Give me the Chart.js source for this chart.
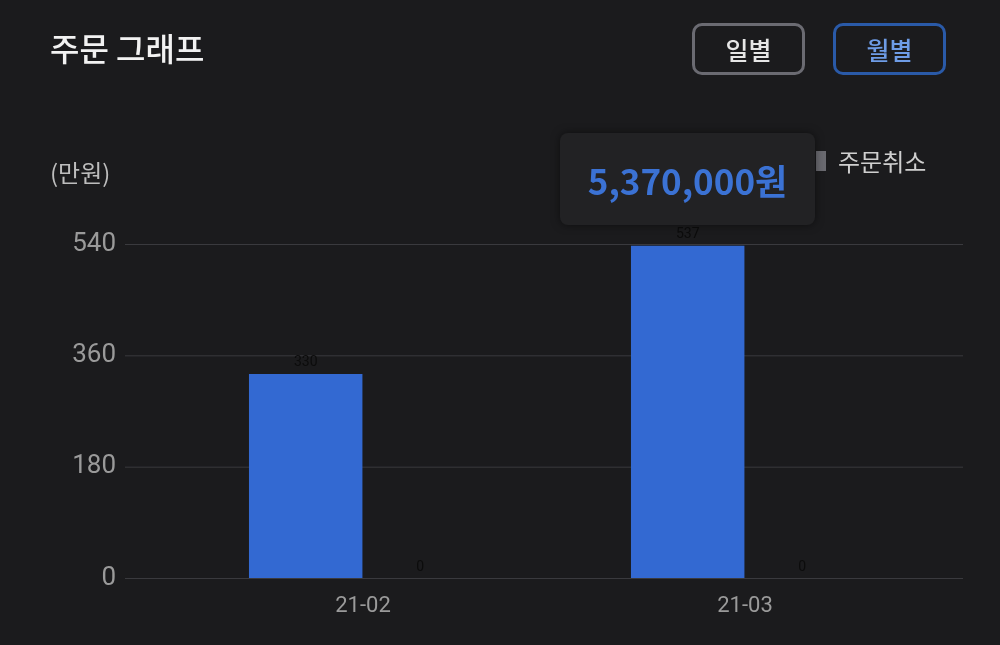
<!DOCTYPE html>
<html><head><meta charset="utf-8">
<script src="https://cdn.jsdelivr.net/npm/chart.js@4"></script>
<style>
body{margin:0;background:#1b1b1d;width:1000px;height:645px;overflow:hidden;font-family:"Noto Sans CJK KR","Noto Sans",sans-serif;position:relative}
#c{position:absolute;left:0;top:0}
.t{position:absolute;left:50px;top:24px;color:#f2f2f2;font-size:32px;font-weight:500}
.b{position:absolute;top:23px;width:113px;height:52px;border-radius:10px;box-sizing:border-box;font-size:25px;display:flex;align-items:center;justify-content:center;font-weight:500}
.unit{position:absolute;left:50px;top:154px;color:#bdbdbd;font-size:24px}
.leg{position:absolute;top:143px;left:816px;color:#cfcfcf;font-size:24px;display:flex;align-items:center}
.leg i{display:inline-block;width:10px;height:20px;background:#6a6a70;margin-right:12px}
.tip{position:absolute;left:560px;top:133px;width:255px;height:92px;background:#222224;border-radius:8px;box-shadow:0 0 8px rgba(0,0,0,.5);color:#3b72d4;font-size:35px;font-weight:700;display:flex;align-items:center;justify-content:center;font-family:"Noto Sans CJK KR","Open Sans",sans-serif}
</style></head><body>
<canvas id="c" width="1000" height="645"></canvas>
<div class="t">주문 그래프</div>
<div class="b" style="left:692px;border:3px solid #6b6b72;color:#e6e6e6">일별</div>
<div class="b" style="left:833px;border:3px solid #2a5aa8;color:#6e9ce6">월별</div>
<div class="unit">(만원)</div>
<div class="leg"><i></i>주문취소</div>
<div class="tip" id="tip"></div>
<script>
const categories=["21-02","21-03"];
const orders=[330,537];
const cancels=[0,0];
const yTicks=[0,180,360,540];
const seriesNames=["주문","주문취소"];

document.getElementById('tip').textContent=(orders[1]*10000).toLocaleString('en-US')+'원';

const deco={id:'deco',
 beforeDatasetsDraw(ch){const c=ch.ctx,y=ch.scales.y,x=ch.scales.x;c.save();
  c.strokeStyle='#3a3a3e';c.lineWidth=1;
  c.font='26px Roboto';c.fillStyle='#9a9a9a';c.textAlign='right';c.textBaseline='middle';
  yTicks.forEach(v=>{const p=y.getPixelForValue(v);c.beginPath();c.moveTo(125,p+.5);c.lineTo(963,p+.5);c.stroke();c.fillText(v,116,p);});
  c.font='22px Roboto';c.textAlign='center';
  categories.forEach((l,i)=>c.fillText(l,x.getPixelForValue(i),606));
  c.restore();},
 afterDatasetsDraw(ch){const c=ch.ctx;c.save();c.font='14px Roboto';c.fillStyle='#0c0c0c';c.textAlign='center';c.textBaseline='bottom';
  ch.data.datasets.forEach((d,di)=>ch.getDatasetMeta(di).data.forEach((b,i)=>c.fillText(d.data[i],b.x,b.y-4)));c.restore();}
};
new Chart(document.getElementById('c'),{type:'bar',
 data:{labels:categories,datasets:[
  {label:seriesNames[0],data:orders,backgroundColor:'#3369d2',categoryPercentage:0.6,barPercentage:0.99},
  {label:seriesNames[1],data:cancels,backgroundColor:'#6a6a70',categoryPercentage:0.6,barPercentage:0.99}]},
 options:{responsive:false,animation:false,devicePixelRatio:1,
  layout:{padding:{left:172,right:64,top:244,bottom:67}},
  plugins:{legend:{display:false},tooltip:{enabled:false}},
  scales:{x:{display:false},y:{display:false,min:0,max:540}}},
 plugins:[deco]});
</script></body></html>
